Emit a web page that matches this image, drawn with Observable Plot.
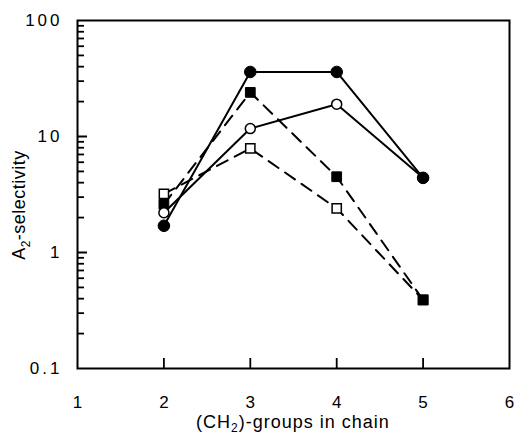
<!DOCTYPE html>
<html>
<head>
<meta charset="utf-8">
<script src="https://cdn.jsdelivr.net/npm/d3@7"></script>
<script src="https://cdn.jsdelivr.net/npm/@observablehq/plot@0.6"></script>
<style>
  html, body { margin: 0; padding: 0; background: white; }
  svg { display: block; }
</style>
</head>
<body>
<div id="chart"></div>
<script>
// CH2 groups in chain
const groups = [2, 3, 4, 5];
// series values (A2-selectivity)
const filledCircle = [1.7, 36, 36, 4.4];
const openCircle   = [2.2, 11.7, 19, 4.4];
const filledSquare = [2.6, 24, 4.5, 0.39];
const openSquare   = [3.2, 7.9, 2.4, 0.39];
// tick labels
const xTickLabels = [1, 2, 3, 4, 5, 6];
const xInnerTicks = [2, 3, 4, 5];
const yTickLabels = [0.1, 1, 10, 100];
const yMajorInner = [1, 10];
const yMinorTicks = [0.2,0.3,0.4,0.5,0.6,0.7,0.8,0.9, 2,3,4,5,6,7,8,9, 20,30,40,50,60,70,80,90];

const toRows = (vals, name) => groups.map((g, i) => ({x: g, y: vals[i], series: name}));
const fc = toRows(filledCircle, "fc");
const oc = toRows(openCircle, "oc");
const fs = toRows(filledSquare, "fs");
const os = toRows(openSquare, "os");

const plot = Plot.plot({
  width: 516,
  height: 437,
  marginLeft: 77,
  marginRight: 7,
  marginTop: 20,
  marginBottom: 69,
  x: {domain: [1, 6]},
  y: {type: "log", domain: [0.1, 100]},
  style: {fontFamily: "'Liberation Sans', Arial, Helvetica, sans-serif", fontSize: "17px", background: "white"},
  marks: [
    Plot.axisY(yTickLabels, {tickSize: 0, tickPadding: 15, label: null, fontSize: 17, tickFormat: d => String(d)}),
    Plot.axisX(xTickLabels, {tickSize: 0, tickPadding: 27, label: null, fontSize: 17, tickFormat: d => String(d)}),
    Plot.frame({strokeWidth: 2, stroke: "black"}),
    // inward ticks
    Plot.axisY(yMajorInner, {tickSize: -10, fill: "none", label: null, stroke: "black", strokeWidth: 2}),
    Plot.axisY(yMinorTicks, {tickSize: -7, fill: "none", label: null, stroke: "black", strokeWidth: 1.8}),
    Plot.axisX(xInnerTicks, {tickSize: -10, fill: "none", label: null, stroke: "black", strokeWidth: 1.8}),
    Plot.line(os, {x: "x", y: "y", stroke: "black", strokeWidth: 2, strokeDasharray: "12,8"}),
    Plot.line(fs, {x: "x", y: "y", stroke: "black", strokeWidth: 2, strokeDasharray: "12,8"}),
    Plot.line(oc, {x: "x", y: "y", stroke: "black", strokeWidth: 2}),
    Plot.line(fc, {x: "x", y: "y", stroke: "black", strokeWidth: 2}),
    Plot.dot(os, {x: "x", y: "y", symbol: "square", r: 5.2, fill: "white", stroke: "black", strokeWidth: 1.5}),
    Plot.dot(fs, {x: "x", y: "y", symbol: "square", r: 5.5, fill: "black", stroke: "black", strokeWidth: 1}),
    Plot.dot(oc, {x: "x", y: "y", symbol: "circle", r: 5, fill: "white", stroke: "black", strokeWidth: 1.5}),
    Plot.dot(fc, {x: "x", y: "y", symbol: "circle", r: 5.8, fill: "black", stroke: "black", strokeWidth: 1})
  ]
});

const svg = d3.select(plot);
svg.selectAll("g[aria-label='y-axis tick label'] text").attr("letter-spacing", 3);
const font = "'Liberation Sans', Arial, Helvetica, sans-serif";
// y-axis title with subscript
const yt = svg.append("text")
  .attr("transform", "translate(25,205) rotate(-90)")
  .attr("text-anchor", "middle")
  .attr("font-family", font)
  .attr("font-size", 18)
  .attr("letter-spacing", 0.5)
  .attr("fill", "black");
yt.append("tspan").text("A");
yt.append("tspan").attr("font-size", 12).attr("dy", 5).text("2");
yt.append("tspan").attr("dy", -5).text("-selectivity");
// x-axis title with subscript
const xt = svg.append("text")
  .attr("x", 293).attr("y", 428)
  .attr("text-anchor", "middle")
  .attr("font-family", font)
  .attr("font-size", 18)
  .attr("letter-spacing", 1)
  .attr("fill", "black");
xt.append("tspan").text("(CH");
xt.append("tspan").attr("font-size", 12).attr("dy", 4).text("2");
xt.append("tspan").attr("dy", -4).text(")-groups in chain");

document.getElementById("chart").appendChild(plot);
</script>
</body>
</html>
